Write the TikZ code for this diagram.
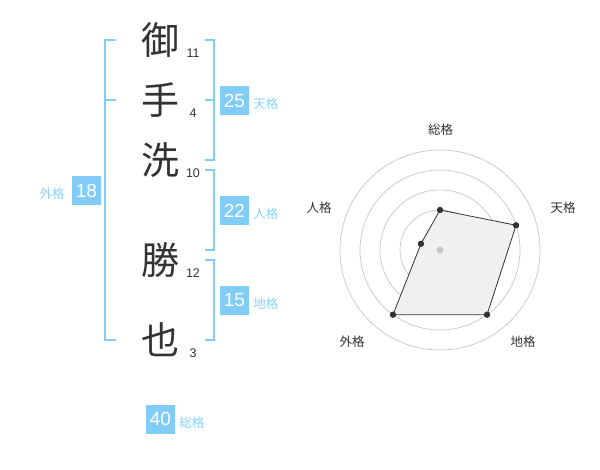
\documentclass[tikz,border=0pt]{standalone}
\usepackage{fontspec}
\setmainfont{Liberation Sans}
\newfontfamily\jpfont{Noto Sans CJK JP}
\usetikzlibrary{positioning,calc}
\definecolor{kakublue}{HTML}{82CCF8}
\definecolor{kakutext}{HTML}{8DD2F8}
\definecolor{inkgray}{HTML}{333333}
\tikzset{
  kanji/.style={font=\jpfont\fontsize{38}{38}\selectfont, text=inkgray, inner sep=0pt},
  strokes/.style={font=\fontsize{12.5}{12.5}\selectfont, text=inkgray, inner sep=0pt, anchor=base},
  kakubox/.style={fill=kakublue, text=white, minimum size=29pt, inner sep=0pt, font=\fontsize{19}{19}\selectfont},
  kakulabel/.style={font=\jpfont\fontsize{12.5}{12.5}\selectfont, text=kakutext, inner sep=0pt},
  bracket/.style={draw=kakublue, line width=2pt},
  axislabel/.style={font=\jpfont\fontsize{12.5}{12.5}\selectfont, text=inkgray, inner sep=0pt},
  ring/.style={draw=black!22, line width=0.7pt},
  vertex/.style={fill=inkgray},
}
\begin{document}
\begin{tikzpicture}[x=1pt,y=-1pt]
  \useasboundingbox[fill=white] (0,0) rectangle (600,470);
  % name, one character per row
  \node[kanji] (mi)  at (160,40)  {御};
  \node[kanji] (te)  at (160,100) {手};
  \node[kanji] (ara) at (160,160) {洗};
  \node[kanji] (katsu) at (160,260) {勝};
  \node[kanji] (nari) at (160,340) {也};
  \node[strokes] (mis)  at (193,58)  {11};
  \node[strokes] (tes)  at (193,118) {4};
  \node[strokes] (aras) at (193,178) {10};
  \node[strokes] (katsus) at (193,278) {12};
  \node[strokes] (naris) at (193,358) {3};
  % brackets
  \draw[bracket] (116,40) -- (105,40) -- (105,340) -- (116,340);
  \draw[bracket] (105,100) -- (116,100);
  \draw[bracket] (205,40) -- (214,40) -- (214,160) -- (205,160);
  \draw[bracket] (205,100) -- (214,100);
  \draw[bracket] (205,170) -- (214,170) -- (214,250) -- (205,250);
  \draw[bracket] (205,260) -- (214,260) -- (214,340) -- (205,340);
  % totals
  \node[kakubox] (ten)  at (234.5,100.5) {25};
  \node[kakubox] (jin)  at (234.5,210.5) {22};
  \node[kakubox] (chi)  at (234.5,300.5) {15};
  \node[kakubox] (gai)  at (86.5,190.5)  {18};
  \node[kakubox] (sou)  at (160.5,419)   {40};
  \node[kakulabel, right=4pt of ten, yshift=-3.5pt] (tenlbl) {天格};
  \node[kakulabel, right=4pt of jin, yshift=-3.5pt] (jinlbl) {人格};
  \node[kakulabel, right=4pt of chi, yshift=-3.5pt] (chilbl) {地格};
  \node[kakulabel, left=7pt of gai, yshift=-3.5pt] (gailbl) {外格};
  \node[kakulabel, right=4pt of sou, yshift=-3.5pt] (soulbl) {総格};
  % radar chart
  \coordinate (o) at (440,250);
  \foreach \r in {20,40,60,80,100}
    \draw[ring] (o) circle[radius=\r];
  \coordinate (psou) at ($(o)+(-90:40)$);
  \coordinate (pten) at ($(o)+(-18:80)$);
  \coordinate (pchi) at ($(o)+(54:80)$);
  \coordinate (pgai) at ($(o)+(126:80)$);
  \coordinate (pjin) at ($(o)+(198:20)$);
  \filldraw[fill=black!6, draw=inkgray, line width=0.8pt]
    (psou) -- (pten) -- (pchi) -- (pgai) -- (pjin) -- cycle;
  \fill[black!22] (o) circle[radius=3.5];
  \foreach \p in {psou,pten,pchi,pgai,pjin}
    \fill[vertex] (\p) circle[radius=3.2];
  \node[axislabel] (lsou) at (440.5,130) {総格};
  \node[axislabel] (lten) at (563,208) {天格};
  \node[axislabel] (lchi) at (523,342) {地格};
  \node[axislabel] (lgai) at (352,342) {外格};
  \node[axislabel] (ljin) at (319,208) {人格};
\end{tikzpicture}
\end{document}
